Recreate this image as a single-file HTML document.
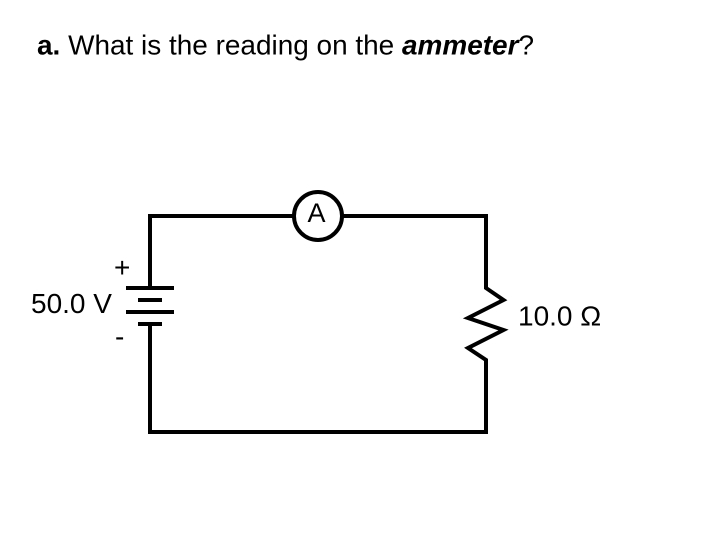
<!DOCTYPE html>
<html>
<head>
<meta charset="utf-8">
<style>
html,body{margin:0;padding:0;background:#fff;}
svg{display:block;}
text{font-family:"Liberation Sans",sans-serif;fill:#000;}
</style>
</head>
<body>
<svg width="720" height="540" viewBox="0 0 720 540" xmlns="http://www.w3.org/2000/svg">
<rect width="720" height="540" fill="#fff"/>
<text x="37" y="54.500" font-size="27.950"><tspan font-weight="bold">a.</tspan> What is the reading on the <tspan font-weight="bold" font-style="italic">ammeter</tspan>?</text>
<g fill="none" stroke="#000" stroke-width="4" stroke-linejoin="miter">
<path d="M150 288V216H294"/>
<path d="M342 216H486V288L503.500 300L468 318L503.500 330L468 348L486 360V432H150V324"/>
<circle cx="318" cy="216" r="24"/>
<path d="M126 288H174M138 300H162M126 312H174M138 324H162"/>
</g>
<text x="316.500" y="222" font-size="27" text-anchor="middle">A</text>
<text x="114" y="277" font-size="28">+</text>
<text x="31" y="313" font-size="28">50.0 V</text>
<text x="115" y="346" font-size="28">-</text>
<text x="518" y="325.500" font-size="28">10.0 Ω</text>
</svg>
</body>
</html>
